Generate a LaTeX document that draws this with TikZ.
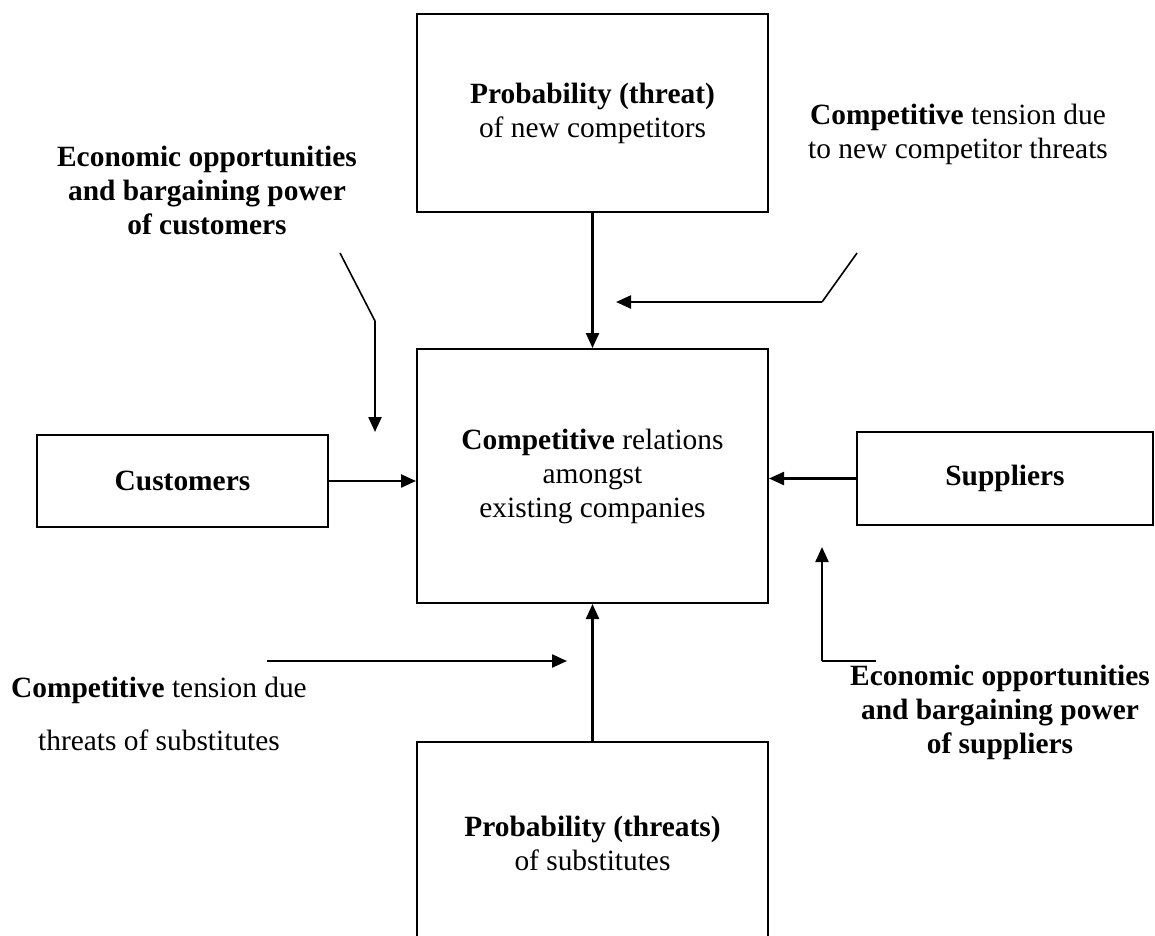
\documentclass[tikz,border=0pt]{standalone}
\usepackage{fontspec}
\setmainfont{Liberation Serif}
\usetikzlibrary{arrows.meta}
\tikzset{
  every node/.append style={font=\fontsize{29.4}{34}\selectfont, align=center, inner sep=0pt},
  box/.style={draw, line width=2pt},
  arr/.style={line width=2.3pt, -{Triangle[length=15pt,width=13pt]}},
  bent/.style={line width=1.6pt},
  lbl/.style={}
}
\begin{document}
\begin{tikzpicture}[x=1pt,y=-1pt]
\useasboundingbox (0,0) rectangle (1155,935);
\clip (0,0) rectangle (1155,935);
% boxes
\node[box, minimum width=351pt, minimum height=198pt] (top) at (592.5,113) {\textbf{Probability (threat)}\\of new competitors};
\node[box, minimum width=351pt, minimum height=254pt] (mid) at (592.5,476) {\textbf{Competitive} relations\\amongst\\existing companies};
\node[box, minimum width=351pt, minimum height=203pt] (bot) at (592.5,843.5) {\textbf{Probability (threats)}\\of substitutes};
\node[box, minimum width=291pt, minimum height=92pt] (cust) at (182.5,481) {\textbf{Customers}};
\node[box, minimum width=296pt, minimum height=93pt] (supp) at (1005,478.5) {\textbf{Suppliers}};
% labels
\node[lbl] (lcust) at (207,190) {\textbf{Economic opportunities}\\\textbf{and bargaining power}\\\textbf{of customers}};
\node[lbl] (lnew) at (958,134) {\textbf{Competitive} tension due\\to new competitor threats};
\node[lbl] (lsub) at (159,714) {\textbf{Competitive} tension due\\[19pt]threats of substitutes};
\node[lbl] (lsupp) at (1000,712) {\textbf{Economic opportunities}\\\textbf{and bargaining power}\\\textbf{of suppliers}};
% main arrows
\draw[arr] (top.south) -- (mid.north);
\draw[arr] (cust.east) -- (cust.east -| mid.west);
\draw[arr] (supp.west) -- (supp.west -| mid.east);
\draw[arr] (bot.north) -- (mid.south);
% bent indicator arrows
\coordinate (a1) at (340,253);
\coordinate (a2) at (375,321);
\coordinate (a3) at (375,432);
\draw[bent] (a1) -- (a2);
\draw[arr] (a2) -- (a3);
\coordinate (b1) at (857,253);
\coordinate (b2) at (822,302);
\coordinate (b3) at (616,302);
\draw[bent] (b1) -- (b2);
\draw[arr] (b2) -- (b3);
\coordinate (c1) at (876,661);
\coordinate (c2) at (822,661);
\coordinate (c3) at (822,547);
\draw[bent] (c1) -- (c2);
\draw[arr] (c2) -- (c3);
\coordinate (d1) at (267,661);
\coordinate (d2) at (567,661);
\draw[arr] (d1) -- (d2);
\end{tikzpicture}
\end{document}
